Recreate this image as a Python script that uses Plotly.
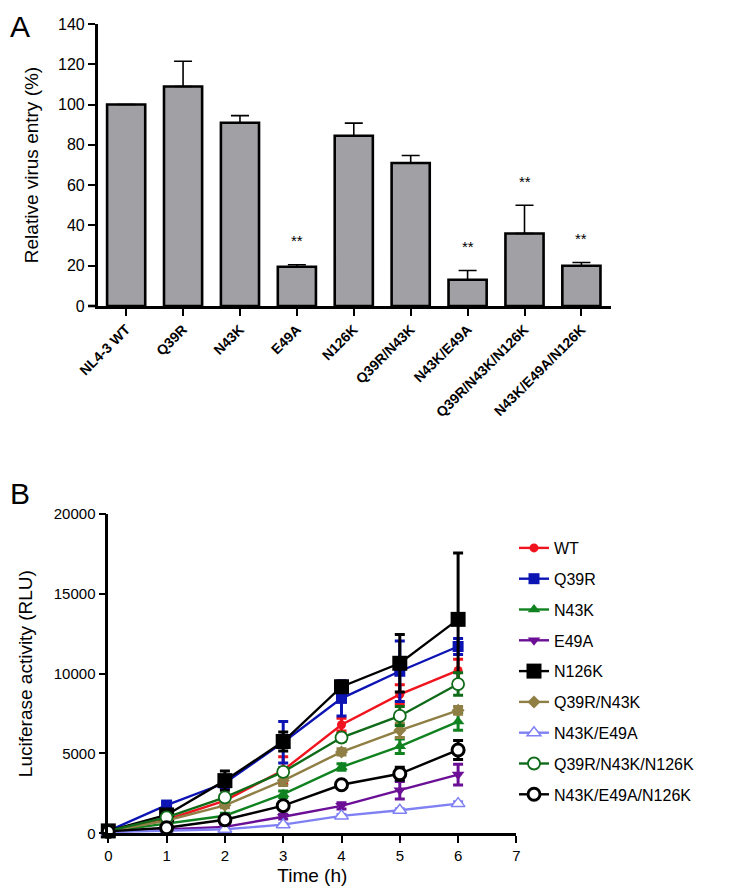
import plotly.graph_objects as go

# ---------------- Panel A data ----------------
mutants = ["NL4-3 WT", "Q39R", "N43K", "E49A", "N126K", "Q39R/N43K",
           "N43K/E49A", "Q39R/N43K/N126K", "N43K/E49A/N126K"]
entry = [100, 109, 91, 19.5, 84.5, 71, 13, 36, 20]
entry_err = [0, 12.5, 3.5, 1.0, 6.3, 3.7, 4.6, 14, 1.6]
signif = ["", "", "", "**", "", "", "**", "**", "**"]
a_yticks = [0, 20, 40, 60, 80, 100, 120, 140]

# ---------------- Panel B data ----------------
hours = [0, 1, 2, 3, 4, 5, 6]
b_xticks = [0, 1, 2, 3, 4, 5, 6, 7]
b_yticks = [0, 5000, 10000, 15000, 20000]
series_names = ["WT", "Q39R", "N43K", "E49A", "N126K", "Q39R/N43K",
                "N43K/E49A", "Q39R/N43K/N126K", "N43K/E49A/N126K"]
wt = [150, 850, 2050, 3950, 6800, 8700, 10200]
wt_err = [0, 100, 200, 850, 400, 600, 700]
q39r = [150, 1770, 3150, 5700, 8450, 10150, 11700]
q39r_err = [0, 150, 300, 1300, 1100, 1900, 500]
n43k = [120, 600, 1100, 2450, 4150, 5450, 7000]
n43k_err = [0, 80, 150, 200, 200, 450, 550]
e49a = [100, 250, 400, 1040, 1720, 2700, 3680]
e49a_err = [0, 50, 60, 150, 200, 550, 650]
n126k = [150, 1150, 3300, 5750, 9180, 10650, 13400]
n126k_err = [0, 200, 600, 600, 300, 1800, 4150]
q39r_n43k = [130, 800, 1750, 3300, 5100, 6450, 7700]
q39r_n43k_err = [0, 80, 150, 300, 200, 450, 250]
n43k_e49a = [80, 150, 250, 540, 1090, 1440, 1860]
n43k_e49a_err = [0, 30, 40, 60, 80, 100, 120]
triple_a = [150, 1000, 2250, 3850, 6000, 7350, 9350]
triple_a_err = [0, 100, 150, 250, 250, 600, 700]
triple_b = [120, 350, 850, 1730, 3040, 3730, 5220]
triple_b_err = [0, 60, 120, 150, 150, 400, 600]

b_values = [wt, q39r, n43k, e49a, n126k, q39r_n43k, n43k_e49a, triple_a, triple_b]
b_errors = [wt_err, q39r_err, n43k_err, e49a_err, n126k_err, q39r_n43k_err,
            n43k_e49a_err, triple_a_err, triple_b_err]

styles = [
    dict(color="#f0141e", symbol="circle", size=9, fill="#f0141e", lw=0),
    dict(color="#0d14b4", symbol="square", size=11, fill="#0d14b4", lw=0),
    dict(color="#108220", symbol="triangle-up", size=11, fill="#108220", lw=0),
    dict(color="#6b0f96", symbol="triangle-down", size=11, fill="#6b0f96", lw=0),
    dict(color="#000000", symbol="square", size=15, fill="#000000", lw=0),
    dict(color="#8f7f45", symbol="diamond", size=10, fill="#8f7f45", lw=0),
    dict(color="#8080f5", symbol="triangle-up", size=12, fill="white", lw=1.5),
    dict(color="#106b18", symbol="circle", size=12, fill="white", lw=1.8),
    dict(color="#000000", symbol="circle", size=12, fill="white", lw=3),
]

FONT = "Arial, Liberation Sans, sans-serif"
PAGE_W, PAGE_H = 742, 894
BODY = 8  # default page body margin
W, H = PAGE_W - 2 * BODY, PAGE_H - 2 * BODY

fig = go.Figure()

# Panel A bars
fig.add_trace(go.Bar(
    x=list(range(len(mutants))), y=entry,
    width=0.67,
    marker=dict(color="#a1a1a5", line=dict(color="black", width=2.6)),
    error_y=dict(type="data", array=entry_err, arrayminus=[0] * len(entry),
                 symmetric=False, color="black", thickness=1.6, width=9),
    xaxis="x", yaxis="y", showlegend=False, hoverinfo="skip",
))

# Panel B lines
for i, (name, vals, errs, st) in enumerate(zip(series_names, b_values, b_errors, styles)):
    fig.add_trace(go.Scatter(
        x=hours, y=vals, name=name, mode="lines+markers",
        line=dict(color=st["color"], width=2.4),
        marker=dict(symbol=st["symbol"], size=st["size"], color=st["fill"],
                    line=dict(color=st["color"], width=st["lw"])),
        error_y=dict(type="data", array=errs, color=st["color"], thickness=3, width=5),
        xaxis="x2", yaxis="y2", cliponaxis=False, legendgroup=name,
    ))

# Significance marks
for i, s in enumerate(signif):
    if s:
        fig.add_annotation(x=i, y=entry[i] + entry_err[i], xref="x", yref="y",
                           text=s, showarrow=False, yanchor="middle", yshift=24,
                           font=dict(family=FONT, size=15, color="black"))

def px(xp):
    return (xp - BODY) / W

def py(yp):
    return 1 - (yp - BODY) / H

axis_common = dict(showgrid=False, zeroline=False, showline=True, linecolor="black",
                   linewidth=2.6, ticks="outside", ticklen=7, tickwidth=2.4,
                   tickcolor="black", automargin=False)

fig.update_layout(
    width=W, height=H, margin=dict(l=0, r=0, t=0, b=0, pad=0), autosize=False,
    plot_bgcolor="white", paper_bgcolor="white",
    font=dict(family=FONT, color="black"),
    bargap=0.33,
    xaxis=dict(domain=[px(97.7), px(611)], range=[-0.5, 8.52], anchor="y",
               tickmode="array", tickvals=list(range(len(mutants))), ticktext=mutants,
               tickangle=-45, tickfont=dict(family=FONT, size=14, weight="bold"),
               **axis_common),
    yaxis=dict(domain=[py(306), py(24)], range=[0, 140], anchor="x",
               tickmode="array", tickvals=a_yticks, ticktext=[str(v) for v in a_yticks],
               tickfont=dict(family=FONT, size=16),
               title=dict(text="Relative virus entry (%)", font=dict(family=FONT, size=19),
                          standoff=15),
               **axis_common),
    xaxis2=dict(domain=[px(108.3), px(516.4)], range=[0, 7], anchor="y2",
                tickmode="array", tickvals=b_xticks, ticktext=[str(v) for v in b_xticks],
                tickfont=dict(family=FONT, size=15),
                title=dict(text="Time (h)", font=dict(family=FONT, size=19), standoff=18),
                **axis_common),
    yaxis2=dict(domain=[py(833.3), py(514)], range=[0, 20000], anchor="x2",
                tickmode="array", tickvals=b_yticks, ticktext=[str(v) for v in b_yticks],
                tickfont=dict(family=FONT, size=15),
                title=dict(text="Luciferase activity (RLU)", font=dict(family=FONT, size=19),
                           standoff=17),
                **axis_common),
    legend=dict(x=px(514), y=py(531), xanchor="left", yanchor="top",
                font=dict(family=FONT, size=16), tracegroupgap=7,
                itemwidth=30, bgcolor="rgba(0,0,0,0)"),
)

# Small stub of the x axis to the left of the y axis in panel A (GraphPad style)
fig.add_shape(type="line", xref="paper", yref="paper",
              x0=px(88), x1=px(97.7), y0=py(306), y1=py(306),
              line=dict(color="black", width=2.6))

# Panel labels
fig.add_annotation(x=0, y=1, xref="paper", yref="paper", text="A",
                   showarrow=False, xanchor="left", yanchor="top",
                   font=dict(family=FONT, size=30, color="black"))
fig.add_annotation(x=0, y=py(475), xref="paper", yref="paper", text="B",
                   showarrow=False, xanchor="left", yanchor="top",
                   font=dict(family=FONT, size=30, color="black"))

fig.write_html("out.html")
